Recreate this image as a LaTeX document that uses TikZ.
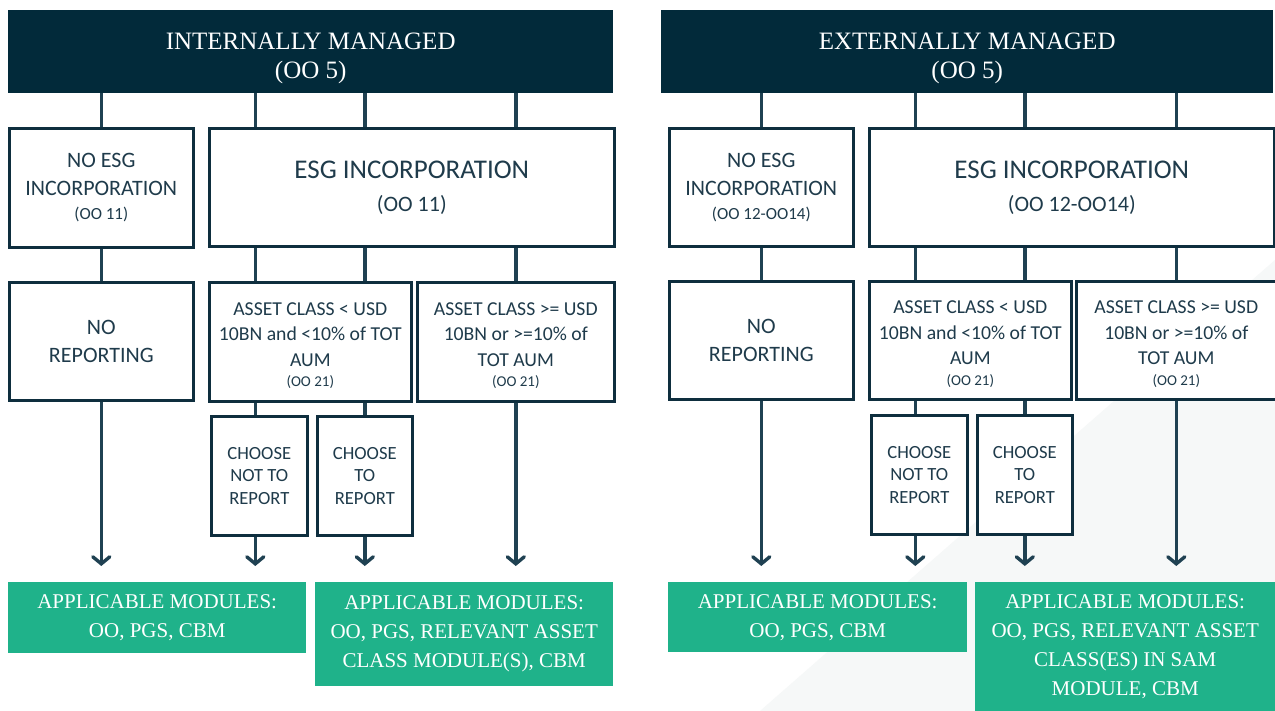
\documentclass[tikz,border=0pt]{standalone}
\usepackage{fontspec}
\setmainfont{Liberation Serif}
\newfontfamily\boxfont{Carlito}
\usetikzlibrary{arrows.meta}
\definecolor{navy}{HTML}{022A3A}
\definecolor{edge}{HTML}{0E2E3E}
\definecolor{wire}{HTML}{1F4152}
\definecolor{ink}{HTML}{1F3B4B}
\definecolor{mint}{HTML}{1FB28A}
\definecolor{haze}{HTML}{F6F8F8}
\tikzset{
  hdr/.style={fill=navy, text=white, align=center, inner sep=0pt, anchor=north west,
    font=\fontsize{25}{29}\selectfont},
  box/.style={draw=edge, line width=2.6pt, fill=white, text=ink, align=center, inner sep=0pt,
    anchor=north west},
  big/.style={font=\boxfont\fontsize{27}{33}\selectfont},
  mid/.style={font=\boxfont\fontsize{22}{28}\selectfont},
  sml/.style={font=\boxfont\fontsize{19.7}{25.5}\selectfont},
  tiny/.style={font=\boxfont\fontsize{18.6}{22.5}\selectfont},
  green/.style={fill=mint, text=white, align=center, inner sep=0pt, anchor=north west,
    font=\fontsize{21}{29}\selectfont},
  wirestyle/.style={draw=wire, line width=3.6pt},
  arr/.style={draw=wire, line width=3.6pt, -{Straight Barb[length=7pt,width=17pt,line width=3.4pt,line cap=round]}},
}
\newcommand{\note}[1]{{\fontsize{17}{20}\selectfont #1}}
\newcommand{\snote}[1]{{\fontsize{15}{18}\selectfont #1}}
\newcommand{\lift}{\rule{0pt}{30pt}}
\newcommand{\nudge}{\rule{0pt}{20pt}}
\begin{document}
\begin{tikzpicture}[x=1pt,y=-1pt]
\useasboundingbox (0,0) rectangle (1275,711);
\fill[white] (0,0) rectangle (1275,711);
\fill[haze] (760,711) -- (1275,260) -- (1275,711) -- cycle;

% ---------- LEFT ----------
\node[hdr, minimum width=605pt, minimum height=83pt] (hL) at (8,10) {\lift INTERNALLY MANAGED\\(OO 5)};
\node[box, mid, minimum width=184pt, minimum height=119pt] (neL) at (8,127) {NO ESG\\INCORPORATION\\[-4pt]\note{(OO 11)}};
\node[box, big, minimum width=405pt, minimum height=118pt] (esL) at (208,127) {ESG INCORPORATION\\{\fontsize{22}{26}\selectfont (OO 11)}};
\node[box, mid, minimum width=184pt, minimum height=118pt] (nrL) at (8,281) {NO\\REPORTING};
\node[box, sml, minimum width=202pt, minimum height=119pt] (acsL) at (208,281) {\nudge ASSET CLASS < USD\\10BN and <10\% of TOT\\AUM\\[-5pt]\snote{(OO 21)}};
\node[box, sml, minimum width=197pt, minimum height=119pt] (acbL) at (416,281) {\nudge ASSET CLASS >= USD\\10BN or >=10\% of\\TOT AUM\\[-5pt]\snote{(OO 21)}};
\node[box, tiny, minimum width=96pt, minimum height=119pt] (cnL) at (210,415) {CHOOSE\\NOT TO\\REPORT};
\node[box, tiny, minimum width=95pt, minimum height=119pt] (ctL) at (316,415) {CHOOSE\\TO\\REPORT};
\node[green, minimum width=298pt, minimum height=71pt] (gaL) at (8,582) {APPLICABLE MODULES:\\OO, PGS, CBM};
\node[green, minimum width=298pt, minimum height=104pt] (gbL) at (315,582) {APPLICABLE MODULES:\\OO, PGS, RELEVANT ASSET\\CLASS MODULE(S), CBM};
\coordinate (kL) at ([xshift=-4pt]cnL.north);

\draw[wirestyle] (hL.south -| nrL.north) -- (neL.north);
\draw[wirestyle] (hL.south -| kL) -- (esL.north -| kL);
\draw[wirestyle] (hL.south -| ctL.north) -- (esL.north -| ctL.north);
\draw[wirestyle] (hL.south -| acbL.north) -- (esL.north -| acbL.north);
\draw[wirestyle] (neL.south) -- (nrL.north);
\draw[wirestyle] (esL.south -| kL) -- (acsL.north -| kL);
\draw[wirestyle] (esL.south -| ctL.north) -- (acsL.north -| ctL.north);
\draw[wirestyle] (esL.south -| acbL.north) -- (acbL.north);
\draw[wirestyle] (acsL.south -| kL) -- (kL);
\draw[wirestyle] (acsL.south -| ctL.north) -- (ctL.north);
\draw[arr] (nrL.south) -- ([yshift=16pt]nrL.south |- gaL.north);
\draw[arr] (cnL.south -| kL) -- ([yshift=16pt]kL |- gaL.north);
\draw[arr] (ctL.south) -- ([yshift=16pt]ctL.south |- gbL.north);
\draw[arr] (acbL.south) -- ([yshift=16pt]acbL.south |- gbL.north);

% ---------- RIGHT ----------
\node[hdr, minimum width=612pt, minimum height=83pt] (hR) at (661,10) {\lift EXTERNALLY MANAGED\\(OO 5)};
\node[box, mid, minimum width=184pt, minimum height=118pt] (neR) at (668,127) {NO ESG\\INCORPORATION\\[-4pt]\note{(OO 12-OO14)}};
\node[box, big, minimum width=405pt, minimum height=118pt] (esR) at (868,127) {ESG INCORPORATION\\{\fontsize{22}{26}\selectfont (OO 12-OO14)}};
\node[box, mid, minimum width=184pt, minimum height=118pt] (nrR) at (668,280) {NO\\REPORTING};
\node[box, sml, minimum width=202pt, minimum height=118pt] (acsR) at (868,280) {\nudge ASSET CLASS < USD\\10BN and <10\% of TOT\\AUM\\[-5pt]\snote{(OO 21)}};
\node[box, sml, minimum width=200pt, minimum height=118pt] (acbR) at (1075,280) {\nudge ASSET CLASS >= USD\\10BN or >=10\% of\\TOT AUM\\[-5pt]\snote{(OO 21)}};
\node[box, tiny, minimum width=96pt, minimum height=119pt] (cnR) at (870,414) {CHOOSE\\NOT TO\\REPORT};
\node[box, tiny, minimum width=95pt, minimum height=119pt] (ctR) at (976,414) {CHOOSE\\TO\\REPORT};
\node[green, minimum width=299pt, minimum height=70pt] (gaR) at (668,582) {APPLICABLE MODULES:\\OO, PGS, CBM};
\node[green, minimum width=300pt, minimum height=129pt] (gbR) at (975,582) {APPLICABLE MODULES:\\OO, PGS, RELEVANT ASSET\\CLASS(ES) IN SAM\\MODULE, CBM};
\coordinate (kR) at ([xshift=-4pt]cnR.north);

\draw[wirestyle] (hR.south -| nrR.north) -- (neR.north);
\draw[wirestyle] (hR.south -| kR) -- (esR.north -| kR);
\draw[wirestyle] (hR.south -| ctR.north) -- (esR.north -| ctR.north);
\draw[wirestyle] (hR.south -| acbR.north) -- (esR.north -| acbR.north);
\draw[wirestyle] (neR.south) -- (nrR.north);
\draw[wirestyle] (esR.south -| kR) -- (acsR.north -| kR);
\draw[wirestyle] (esR.south -| ctR.north) -- (acsR.north -| ctR.north);
\draw[wirestyle] (esR.south -| acbR.north) -- (acbR.north);
\draw[wirestyle] (acsR.south -| kR) -- (kR);
\draw[wirestyle] (acsR.south -| ctR.north) -- (ctR.north);
\draw[arr] (nrR.south) -- ([yshift=16pt]nrR.south |- gaR.north);
\draw[arr] (cnR.south -| kR) -- ([yshift=16pt]kR |- gaR.north);
\draw[arr] (ctR.south) -- ([yshift=16pt]ctR.south |- gbR.north);
\draw[arr] (acbR.south) -- ([yshift=16pt]acbR.south |- gbR.north);
\end{tikzpicture}
\end{document}
